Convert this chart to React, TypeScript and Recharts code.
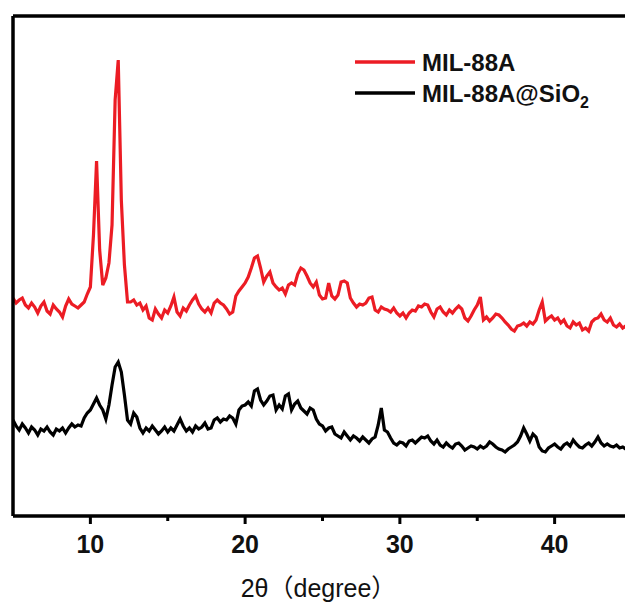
import React from 'react';
import { LineChart, Line, XAxis, YAxis, ReferenceLine } from 'recharts';

// 2θ sampling: 5° .. 45°, 0.2° step
const THETA_START = 5;
const THETA_STEP = 0.2;

// intensities (a.u.), one value per 0.2°
const mil88a = [
  218, 213, 216, 218, 211, 208, 213, 209, 203, 210,
  214, 205, 202, 211, 207, 204, 199, 210, 217, 212,
  210, 208, 211, 214, 222, 229, 281, 355, 266, 231,
  238, 253, 291, 416, 456, 316, 251, 214, 214, 216,
  211, 213, 206, 210, 198, 196, 207, 202, 198, 206,
  203, 210, 219, 204, 200, 208, 205, 211, 216, 220,
  212, 207, 204, 208, 203, 213, 216, 213, 211, 207,
  202, 204, 220, 225, 229, 233, 239, 248, 258, 260,
  248, 234, 240, 244, 233, 229, 226, 228, 222, 231,
  233, 231, 242, 248, 246, 240, 233, 229, 234, 221,
  217, 218, 233, 220, 217, 221, 234, 235, 233, 218,
  213, 209, 212, 211, 213, 218, 219, 206, 204, 209,
  207, 206, 204, 208, 203, 200, 203, 198, 203, 206,
  205, 210, 209, 212, 211, 204, 199, 207, 209, 204,
  201, 206, 203, 207, 210, 207, 198, 195, 200, 206,
  211, 219, 196, 199, 195, 198, 202, 201, 198, 194,
  191, 187, 185, 190, 191, 193, 190, 194, 192, 196,
  206, 214, 195, 198, 200, 196, 198, 193, 196, 190,
  188, 194, 191, 193, 186, 188, 185, 194, 197, 198,
  202, 196, 194, 198, 191, 189, 192, 188, 190, 187,
  189,
];

const mil88aSiO2 = [
  96, 90, 86, 92, 88, 83, 89, 86, 81, 87,
  85, 89, 84, 81, 87, 85, 88, 83, 88, 92,
  89, 91, 90, 98, 103, 106, 112, 118, 111, 106,
  97, 111, 131, 149, 154, 144, 121, 96, 92, 103,
  99, 88, 83, 88, 85, 90, 86, 82, 85, 89,
  84, 88, 85, 91, 97, 90, 85, 88, 84, 90,
  87, 89, 93, 87, 88, 96, 98, 94, 97, 96,
  100, 98, 92, 106, 110, 111, 114, 110, 125, 127,
  116, 111, 115, 120, 121, 106, 111, 107, 120, 122,
  106, 112, 115, 108, 105, 102, 108, 106, 97, 92,
  90, 85, 88, 89, 82, 80, 78, 84, 80, 76,
  80, 78, 75, 79, 76, 73, 77, 79, 91, 108,
  86, 84, 78, 73, 71, 74, 73, 70, 75, 76,
  73, 76, 79, 78, 80, 75, 72, 76, 71, 69,
  73, 70, 68, 72, 73, 70, 66, 68, 70, 69,
  67, 70, 68, 70, 74, 72, 69, 67, 66, 64,
  67, 69, 71, 74, 80, 88, 82, 75, 82, 79,
  69, 65, 64, 68, 70, 72, 69, 67, 71, 73,
  70, 76, 72, 69, 68, 71, 73, 70, 74, 79,
  73, 70, 72, 70, 69, 71, 68, 69, 67, 68,
  66,
];

const seriesNames = ['MIL-88A', 'MIL-88A@SiO2'];
const seriesColors = ['#ec1c24', '#000000'];
const majorTicks = [10, 20, 30, 40];
const minorTicks = [15, 25, 35];
const Y_MAX = 500;

const data = mil88a.map((v, i) => ({
  theta: +(THETA_START + i * THETA_STEP).toFixed(1),
  a: v,
  b: mil88aSiO2[i],
}));

const FONT = '"Liberation Sans", Arial, "Noto Sans CJK SC", sans-serif';

const AxisTick = (props: any) => {
  const { x, y, payload } = props;
  const major = majorTicks.includes(payload.value);
  return (
    <g>
      <line x1={x} x2={x} y1={y} y2={y + (major ? 8 : 5)} stroke="#000" strokeWidth={3} />
      {major && (
        <text x={x} y={y + 37} textAnchor="middle" fontFamily={FONT} fontWeight="bold" fontSize={25} fill="#111">
          {payload.value}
        </text>
      )}
    </g>
  );
};

const renderName = (name: string) => {
  const m = name.match(/^(.*?)(\d)$/);
  if (!m || !name.includes('@')) return name;
  return (
    <>
      {m[1]}
      <tspan fontSize={16} dy={6}>{m[2]}</tspan>
    </>
  );
};

// legend drawn as an overlay so it doesn't take space from the plot
const LegendBox = () => (
  <svg width={275} height={80} style={{ position: 'absolute', left: 350, top: 40 }}>
    {seriesNames.map((name, i) => (
      <g key={name}>
        <line x1={5} x2={65} y1={22 + i * 31} y2={22 + i * 31} stroke={seriesColors[i]} strokeWidth={3.5} />
        <text x={72} y={31 + i * 31} fontFamily={FONT} fontWeight="bold" fontSize={24} fill="#111">
          {renderName(name)}
        </text>
      </g>
    ))}
  </svg>
);

export default function App() {
  return (
    <div style={{ position: 'absolute', left: 0, top: 0, width: 625, height: 604, overflow: 'hidden', background: '#fff' }}>
      <LineChart width={645} height={604} data={data} margin={{ top: 16, right: 13, left: 0, bottom: 0 }}>
        <XAxis
          dataKey="theta"
          type="number"
          domain={[5, 45]}
          ticks={[...majorTicks, ...minorTicks].sort((p, q) => p - q)}
          interval={0}
          tickLine={false}
          tickSize={0}
          tickMargin={0}
          tick={<AxisTick />}
          axisLine={{ stroke: '#000', strokeWidth: 3.5 }}
          height={88}
          allowDataOverflow
          label={{ value: '2θ（degree）', position: 'insideBottom', offset: 7, dx: -4, fontSize: 25, fontFamily: FONT, fill: '#111' }}
        />
        <YAxis
          type="number"
          domain={[0, Y_MAX]}
          width={13}
          tick={false}
          tickLine={false}
          axisLine={{ stroke: '#000', strokeWidth: 3.5 }}
        />
        {/* top frame line */}
        <ReferenceLine y={Y_MAX} stroke="#000" strokeWidth={3.5} ifOverflow="visible" />
        <Line dataKey="a" name={seriesNames[0]} stroke={seriesColors[0]} strokeWidth={3.2} dot={false} type="linear" isAnimationActive={false} />
        <Line dataKey="b" name={seriesNames[1]} stroke={seriesColors[1]} strokeWidth={3.2} dot={false} type="linear" isAnimationActive={false} />
      </LineChart>
      <LegendBox />
    </div>
  );
}
